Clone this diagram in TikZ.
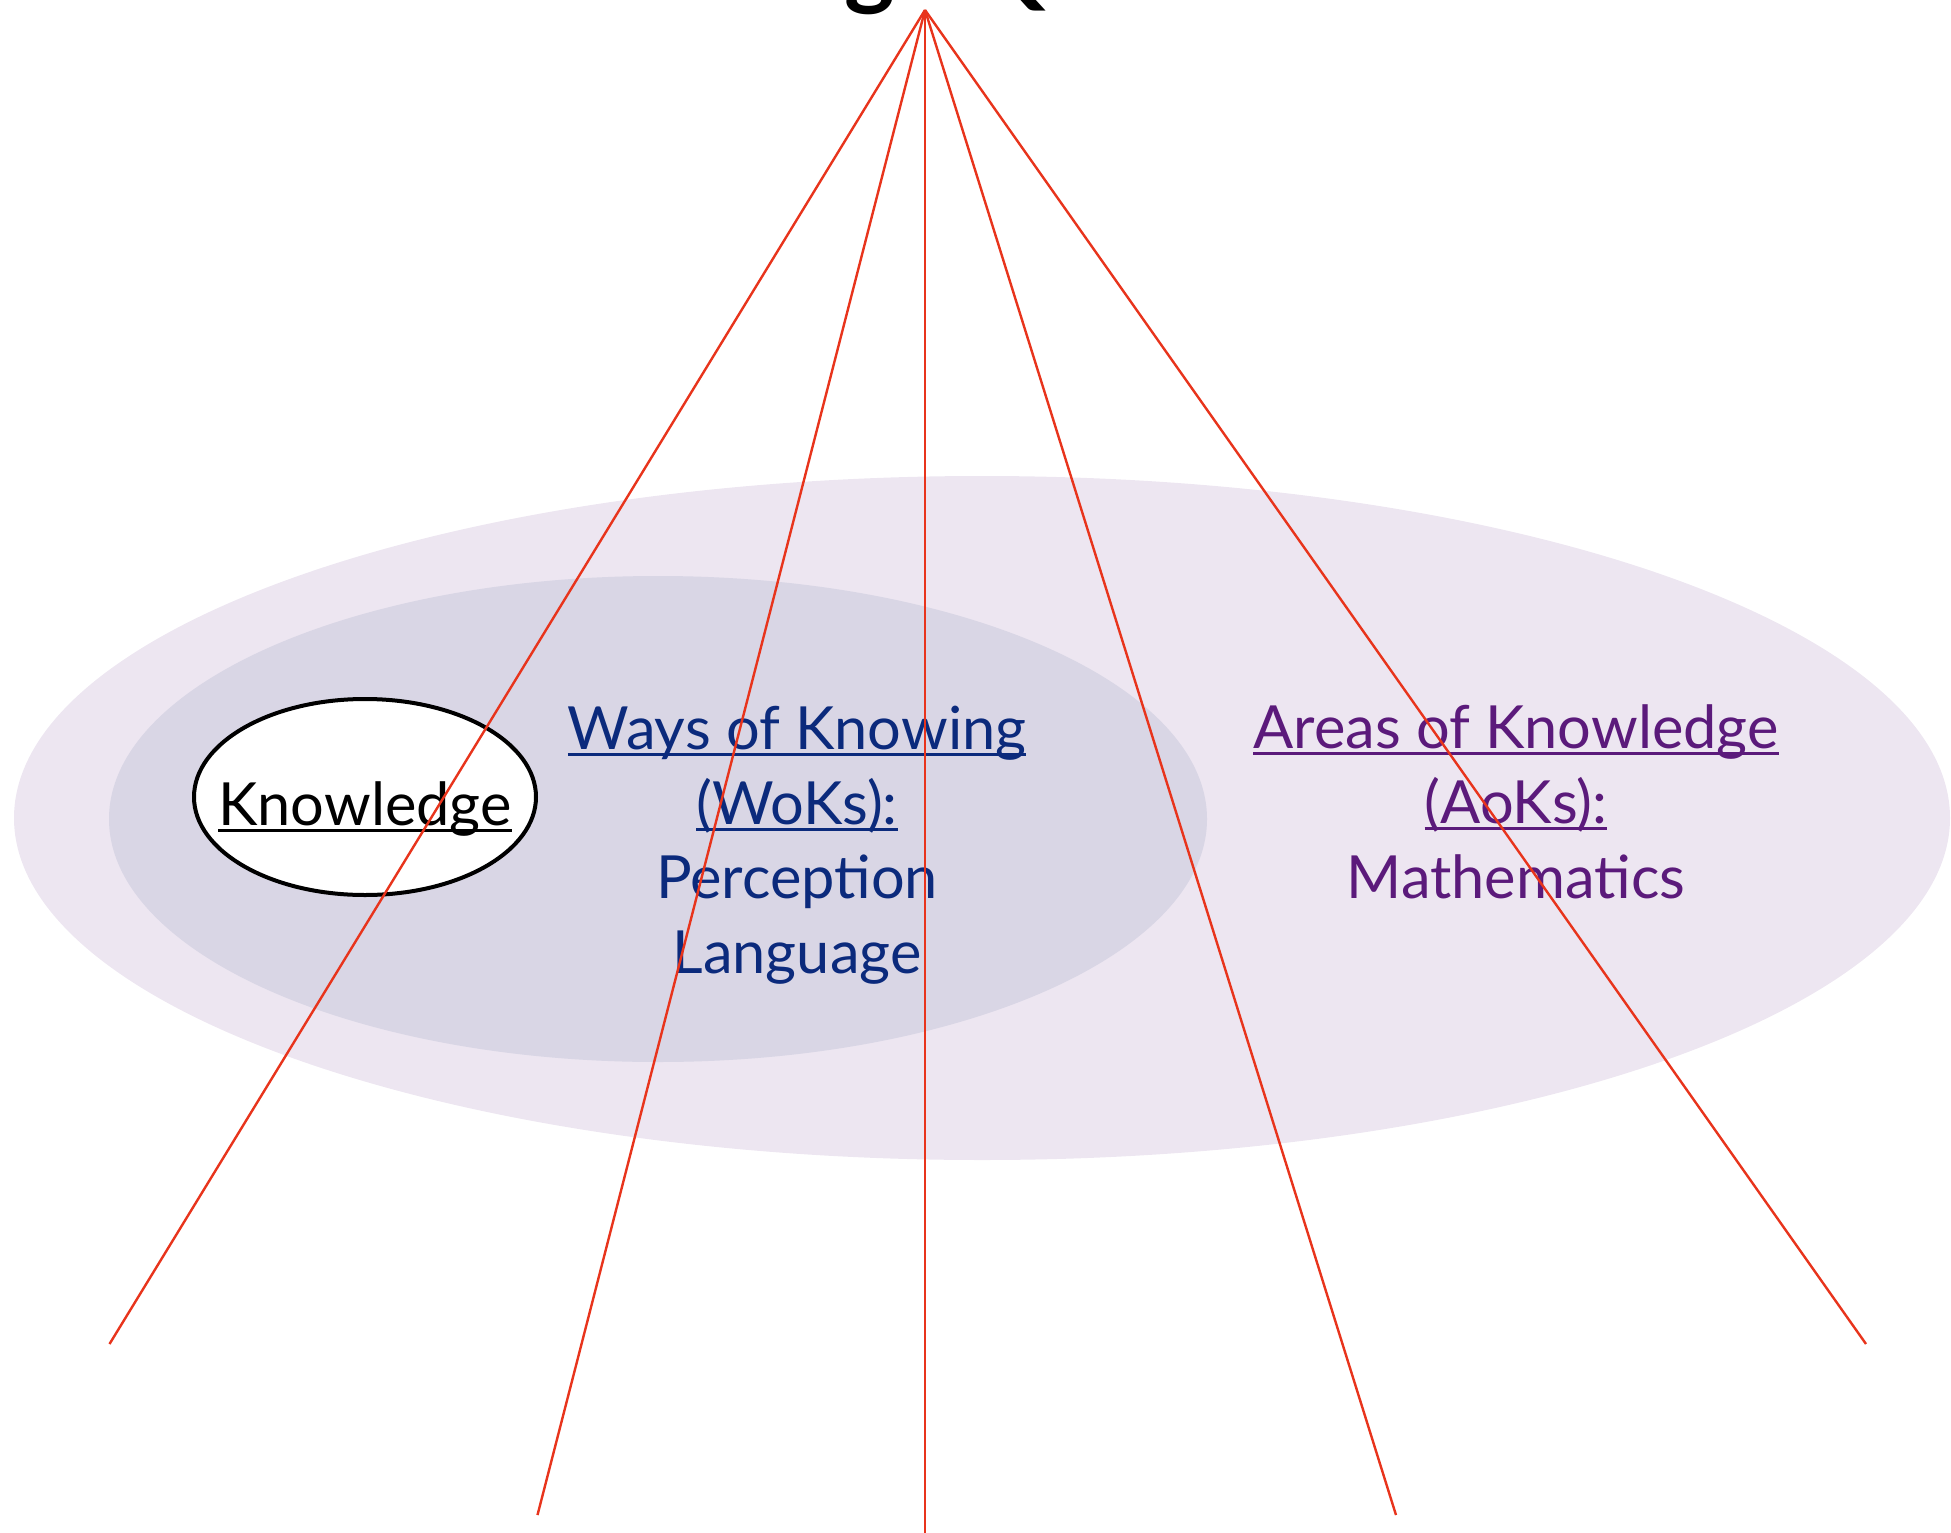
\documentclass[tikz,border=0pt]{standalone}
\usepackage{fontspec}
\setmainfont{Lato}
\usetikzlibrary{shapes.geometric}
\definecolor{outerfill}{HTML}{EDE6F1}
\definecolor{innerfill}{HTML}{D9D6E5}
\definecolor{rayred}{HTML}{E8341C}
\definecolor{wokblue}{HTML}{0B2A7C}
\definecolor{aokpurple}{HTML}{5B1A7B}
\newcommand\ulx[1]{\setbox0\hbox{#1}\rlap{\rule[-6.5pt]{\wd0}{3pt}}\box0}
\tikzset{
  bigtext/.style={inner sep=0pt, anchor=base, font=\fontsize{59.5}{75}\selectfont},
  woktext/.style={bigtext, text=wokblue},
  aoktext/.style={bigtext, text=aokpurple},
  knowtext/.style={bigtext, text=black},
  knowell/.style={draw=black, line width=4pt, fill=white, ellipse, inner sep=0pt,
                  minimum width=342pt, minimum height=196pt},
  titletext/.style={inner sep=0pt, anchor=base, text=black,
                  font=\fontsize{96}{110}\selectfont\bfseries},
  ray/.style={draw=rayred, line width=2.4pt}
}
\begin{document}
\begin{tikzpicture}[x=1pt,y=-1pt]
\useasboundingbox (0,0) rectangle (1951,1533);
\clip (0,0) rectangle (1951,1533);
% title (cut off at top)
\node[titletext] (title) at (935,-2) {Knowledge Questions};
% ellipses
\fill[outerfill] (982,818) ellipse [x radius=968, y radius=342];
\fill[innerfill] (658,819) ellipse [x radius=549, y radius=243];
\node[knowell] (kell) at (365,797) {};
\node[knowtext] (know) at (365,825) {\ulx{Knowledge}};
% Ways of Knowing
\node[woktext] (w1) at (797,749) {\ulx{Ways of Knowing}};
\node[woktext] (w2) at (797,824) {\ulx{(WoKs):}};
\node[woktext] (w3) at (797,898) {Perception};
\node[woktext] (w4) at (797,973) {Language};
% Areas of Knowledge
\node[aoktext] (a1) at (1516,748) {\ulx{Areas of Knowledge}};
\node[aoktext] (a2) at (1516,823) {\ulx{(AoKs):}};
\node[aoktext] (a3) at (1516,898) {Mathematics};
% rays
\coordinate (apex) at (925,10);
\coordinate (e1) at (109.5,1344);
\coordinate (e2) at (537.5,1515);
\coordinate (e3) at (925,1540);
\coordinate (e4) at (1396,1515);
\coordinate (e5) at (1866,1344);
\draw[ray] (apex) -- (e1);
\draw[ray] (apex) -- (e2);
\draw[ray] (apex) -- (e3);
\draw[ray] (apex) -- (e4);
\draw[ray] (apex) -- (e5);
\end{tikzpicture}
\end{document}
